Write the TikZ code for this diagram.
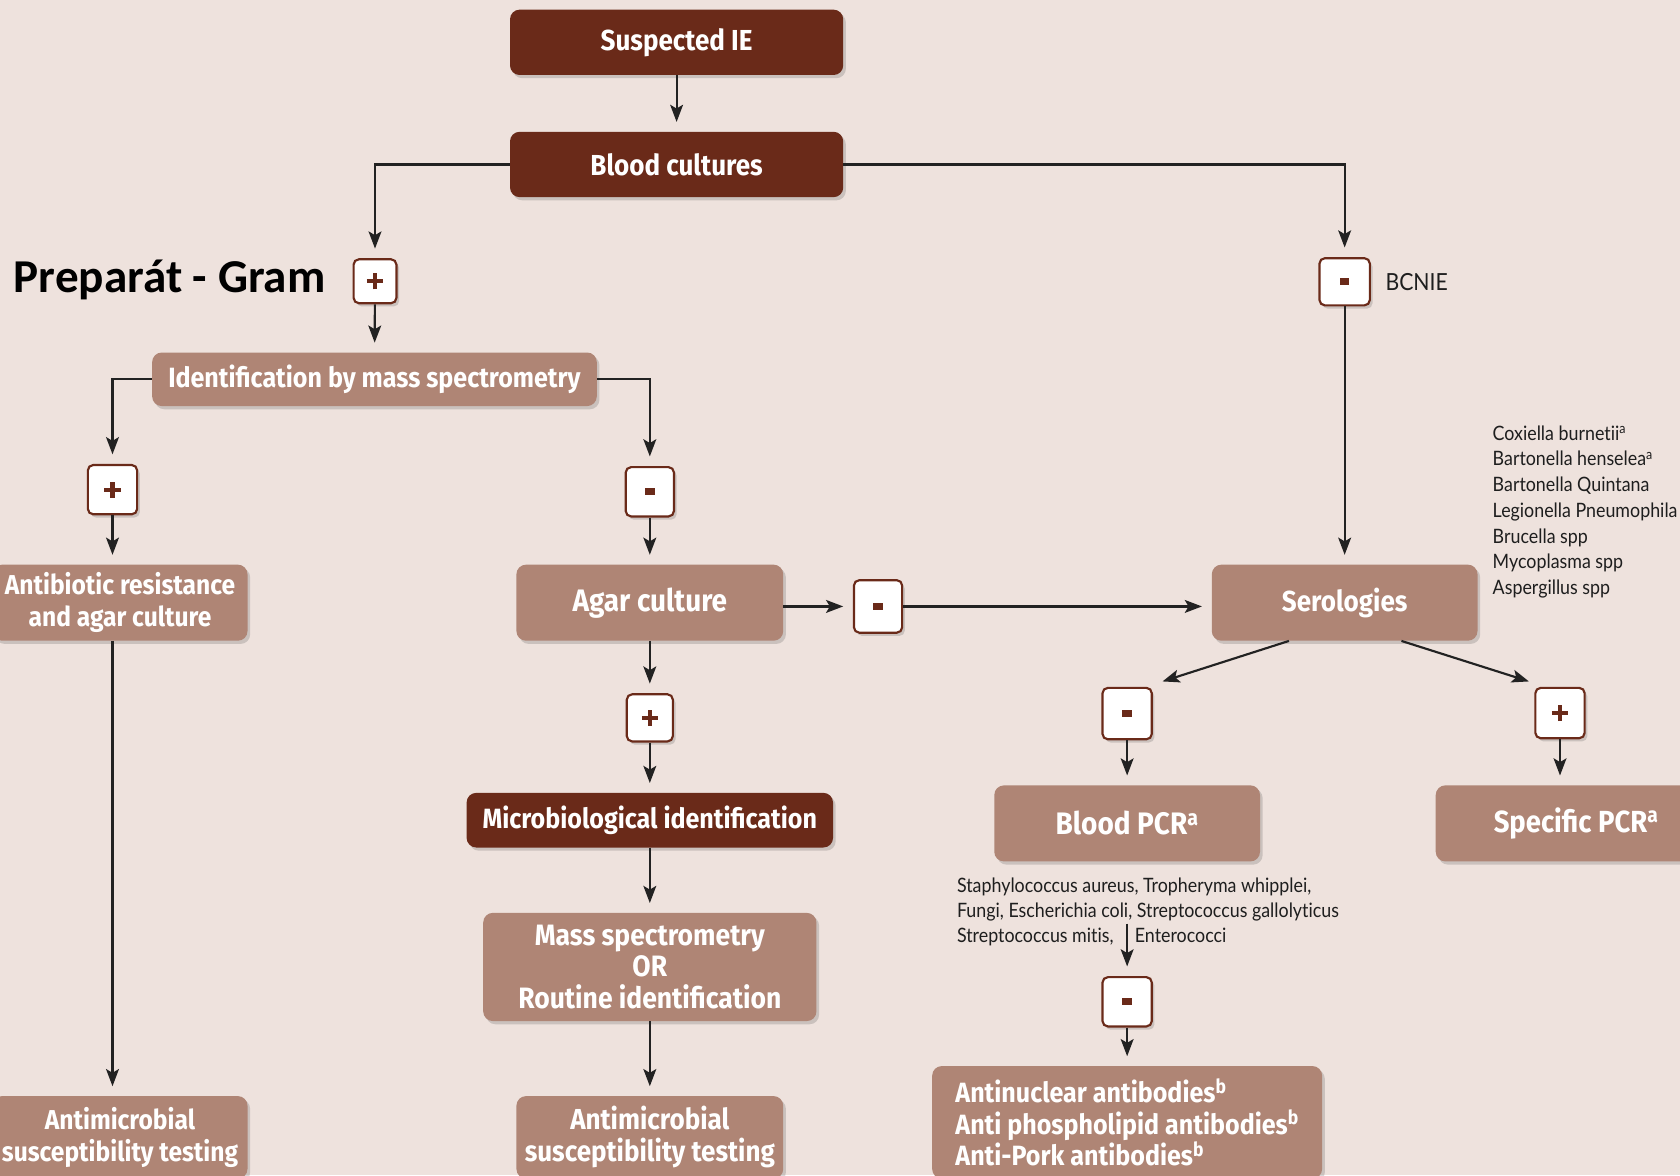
\documentclass[tikz,border=0pt]{standalone}
\usepackage{fontspec}
\setmainfont{Lato}
\newfontfamily\gill{Lato}[FakeStretch=0.9,Ligatures=NoCommon]
\newfontfamily\gillbf{Fira Sans}[FakeStretch=0.9]
\newcommand\gillb{\gillbf\bfseries}
\newfontfamily\calib{Carlito}
\usetikzlibrary{arrows.meta,shadows}
\definecolor{dkbrown}{HTML}{6A2A19}
\definecolor{mdbrown}{HTML}{AF8575}
\definecolor{bgcol}{HTML}{EEE2DD}
\definecolor{lncol}{HTML}{222222}
\definecolor{txtcol}{HTML}{1E1E1E}
\newcommand\myfs[2]{\fontsize{#1}{#2}\selectfont}
\newcommand\plussign{\textcolor{dkbrown}{\makebox[15pt]{\rule[-7.5pt]{4pt}{15pt}}\hspace{-15pt}\makebox[15pt]{\rule[-2pt]{15pt}{4pt}}}}
\newcommand\minussign{\textcolor{dkbrown}{\rule{9pt}{6.5pt}}}
\tikzset{
  shd/.style={drop shadow={shadow xshift=2.5pt,shadow yshift=-3pt,opacity=0.22,fill=black!70}},
  dbox/.style={shd,rounded corners=9pt,fill=dkbrown,text=white,align=center,inner sep=0pt,
    font=\gillb\myfs{27}{30}},
  mbox/.style={shd,rounded corners=9pt,fill=mdbrown,text=white,align=center,inner sep=0pt,
    font=\gillb\myfs{27}{30}},
  sbox/.style={shd,rounded corners=5pt,draw=dkbrown,line width=2pt,fill=white,inner sep=0pt},
  arr/.style={draw=lncol,line width=2pt,-{Stealth[length=16pt,width=12pt,inset=3.5pt]},shorten >=9pt},
  small/.style={text=txtcol,font=\gill\myfs{18.5}{22},inner sep=0pt},
}
\begin{document}
\begin{tikzpicture}[x=1pt,y=-1pt]
\fill[bgcol] (0,0) rectangle (1568,1097);
\useasboundingbox (0,0) rectangle (1568,1097);

% left / centre column
\node[dbox,minimum width=311pt,minimum height=61pt] (sie) at (631.5,39.5) {Suspected IE};
\node[dbox,minimum width=311pt,minimum height=61pt] (bc) at (631.5,153.5) {Blood cultures};
\node[sbox,minimum width=40pt,minimum height=41pt] (p1) at (350,262.5) {\plussign};
\node[anchor=east,text=black,font=\calib\bfseries\myfs{44}{46},inner sep=0pt] (gram) at (304,261) {Preparát - Gram};
\node[mbox,font=\gillb\myfs{26}{28},minimum width=415pt,minimum height=50pt] (idms) at (349.5,354) {Identification by mass spectrometry};
\node[sbox,minimum width=46pt,minimum height=46pt] (p2) at (105,457) {\plussign};
\node[sbox,minimum width=45pt,minimum height=46pt] (m1) at (606.5,459) {\minussign};
\node[mbox,font=\gillb\myfs{25.5}{30},minimum width=238pt,minimum height=71pt] (abr) at (112,562.5) {Antibiotic resistance\\and agar culture};
\node[mbox,font=\gillb\myfs{25.5}{30},minimum width=238pt,minimum height=77pt] (ast1) at (112,1061.5) {Antimicrobial\\susceptibility testing};
\node[mbox,font=\gillb\myfs{29}{30},minimum width=249pt,minimum height=71pt] (agar) at (606.5,562.5) {Agar culture};
\node[sbox,minimum width=45pt,minimum height=49pt] (m2) at (819.5,566) {\minussign};
\node[sbox,minimum width=43pt,minimum height=44pt] (p3) at (606.5,670) {\plussign};
\node[dbox,font=\gillb\myfs{26}{28},minimum width=342pt,minimum height=51pt] (mid) at (606.5,765.5) {Microbiological identification};
\node[mbox,font=\gillb\myfs{27.5}{29.5},minimum width=311pt,minimum height=101pt] (msr) at (606.5,902.5) {Mass spectrometry\\OR\\Routine identification};
\node[mbox,minimum width=249pt,minimum height=77pt] (ast2) at (606.5,1061.5) {Antimicrobial\\susceptibility testing};

% right column
\node[sbox,minimum width=47pt,minimum height=44pt] (m3) at (1255,263) {\minussign};
\node[anchor=west,text=txtcol,font=\gill\myfs{22}{24},inner sep=0pt] (bcnie) at (1293,263) {BCNIE};
\node[mbox,minimum width=248pt,minimum height=71pt] (ser) at (1255,562.5) {Serologies};
\node[small,anchor=north west,align=left,font=\gill\myfs{18.5}{24}] (serlist) at (1393,397) {Coxiella burnetii\textsuperscript{a}\\Bartonella henselea\textsuperscript{a}\\Bartonella Quintana\\Legionella Pneumophila\\Brucella spp\\Mycoplasma spp\\Aspergillus spp};
\node[sbox,minimum width=46pt,minimum height=48pt] (m4) at (1052,666) {\minussign};
\node[sbox,minimum width=46pt,minimum height=47pt] (p4) at (1456,665.5) {\plussign};
\node[mbox,font=\gillb\myfs{29}{30},minimum width=248pt,minimum height=71pt] (bpcr) at (1052,768.5) {Blood PCR\textsuperscript{a}};
\node[mbox,font=\gillb\myfs{28.5}{30},minimum width=262pt,minimum height=71pt] (spcr) at (1471,768.5) {Specific PCR\textsuperscript{a}};
\node[small,anchor=base west] (bug1) at (893,833) {Staphylococcus aureus, Tropheryma whipplei,};
\node[small,anchor=base west] (bug2) at (893,856.5) {Fungi, Escherichia coli, Streptococcus gallolyticus};
\node[small,anchor=base west] (bug3) at (893,880) {Streptococcus mitis,};
\node[small,anchor=base west] (bug4) at (1059,880) {Enterococci};
\coordinate (c1) at (1052,862);
\node[sbox,minimum width=46pt,minimum height=46pt] (m5) at (1052,935) {\minussign};
\node[mbox,align=left,minimum width=364pt,minimum height=105pt,font=\gillb\myfs{26}{29.5}] (anti) at (1052,1047.5) {Antinuclear antibodies\textsuperscript{b}\\Anti phospholipid antibodies\textsuperscript{b}\\Anti-Pork antibodies\textsuperscript{b}};

% connectors
\draw[arr] (sie) -- (bc);
\draw[arr] (bc.west) -| (p1.north);
\draw[arr] (p1) -- (idms);
\draw[arr] (idms.west) -| (p2.north);
\draw[arr] (idms.east) -| (m1.north);
\draw[arr] (p2.south) -- (p2.south |- abr.north);
\draw[arr] (p2.south |- abr.south) -- (p2.south |- ast1.north);
\draw[arr] (m1) -- (agar);
\draw[arr] (m2.west -| agar.east) -- (m2.west);
\draw[arr] (m2.east) -- (m2.east -| ser.west);
\draw[arr] (agar) -- (p3);
\draw[arr] (p3) -- (mid);
\draw[arr] (mid) -- (msr);
\draw[arr] (msr) -- (ast2);
\draw[arr] (bc.east) -| (m3.north);
\draw[arr] (m3) -- (ser);
\draw[arr,shorten >=0pt] ([xshift=-52pt]ser.south) -- ([xshift=33pt,yshift=5pt]m4.north);
\draw[arr,shorten >=0pt] ([xshift=53pt]ser.south) -- ([xshift=-29pt,yshift=5pt]p4.north);
\draw[arr] (m4) -- (bpcr);
\draw[arr] (p4) -- (p4 |- spcr.north);
\draw[arr] (c1) -- (m5);
\draw[arr] (m5) -- (anti);
\end{tikzpicture}
\end{document}
